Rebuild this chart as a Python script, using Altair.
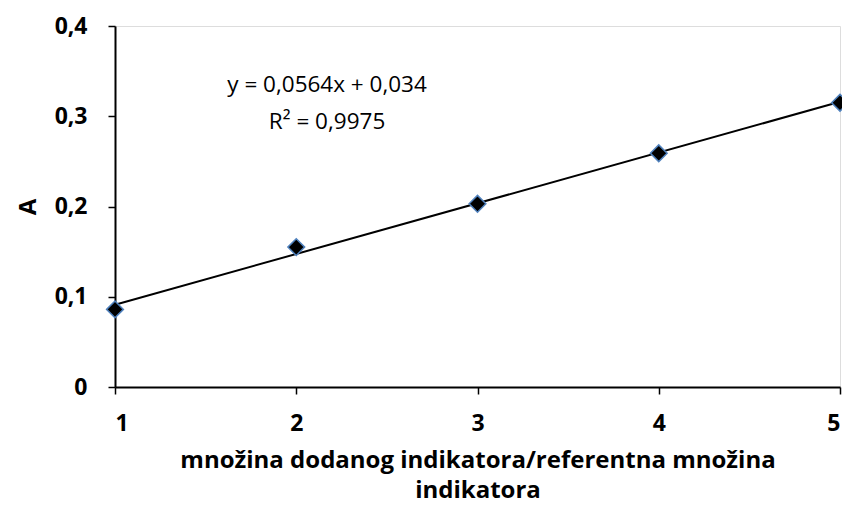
import altair as alt
import pandas as pd

x_vals = [1, 2, 3, 4, 5]
y_vals = [0.086, 0.155, 0.203, 0.259, 0.315]
eq_lines = ["y = 0,0564x + 0,034", "R² = 0,9975"]
eq_x = [2.17, 2.17]
eq_y = [0.335, 0.294]

df = pd.DataFrame({"x": x_vals, "y": y_vals})
ann = pd.DataFrame({"x": eq_x, "y": eq_y, "t": eq_lines})

FONT = "Open Sans"

xs = alt.Scale(domain=[1, 5], nice=False, zero=False)
ys = alt.Scale(domain=[0, 0.4], nice=False)

x_axis = alt.Axis(
    values=[1, 2, 3, 4, 5], format="d", grid=False, labelFont=FONT, labelFontSize=23,
    labelFontWeight="bold", labelColor="black", domainColor="black", domainWidth=2,
    tickColor="black", tickWidth=1.5, tickSize=7, labelPadding=18,
    title=["množina dodanog indikatora/referentna množina", "indikatora"],
    titleFont=FONT, titleFontSize=24, titleFontWeight="bold", titleColor="black",
    titlePadding=13, titleLineHeight=30,
)
y_axis = alt.Axis(
    values=[0, 0.1, 0.2, 0.3, 0.4], grid=False, labelFont=FONT, labelFontSize=23,
    labelFontWeight="bold", labelColor="black", domainColor="black", domainWidth=2,
    tickColor="black", tickWidth=1.5, tickSize=7, labelPadding=21,
    labelExpr="datum.value == 0 ? '0' : replace(format(datum.value, '.1f'), '.', ',')",
    title="A", titleFont=FONT, titleFontSize=24, titleFontWeight="bold", titleColor="black",
    titlePadding=14,
)

base = alt.Chart(df)

line = base.transform_regression("x", "y", extent=[1, 5]).mark_line(
    color="black", strokeWidth=2
).encode(x=alt.X("x:Q", scale=xs, axis=x_axis), y=alt.Y("y:Q", scale=ys, axis=y_axis))

pts = base.mark_point(
    shape="diamond", filled=True, fill="black", stroke="#4F81BD", strokeWidth=1.5,
    size=280, opacity=1
).encode(x=alt.X("x:Q", scale=xs), y=alt.Y("y:Q", scale=ys))

txt = alt.Chart(ann).mark_text(font=FONT, fontSize=22.5, color="black", align="center").encode(
    x=alt.X("x:Q", scale=xs), y=alt.Y("y:Q", scale=ys), text="t:N"
)

chart = alt.layer(line, pts, txt).properties(
    width=725, height=361,
    autosize=alt.AutoSizeParams(type="none"),
    padding={"left": 107, "top": 18, "right": 2, "bottom": 118},
).configure_view(stroke=None).configure(background="white")

chart.save("out.html", embed_options={"renderer": "svg", "actions": False})
